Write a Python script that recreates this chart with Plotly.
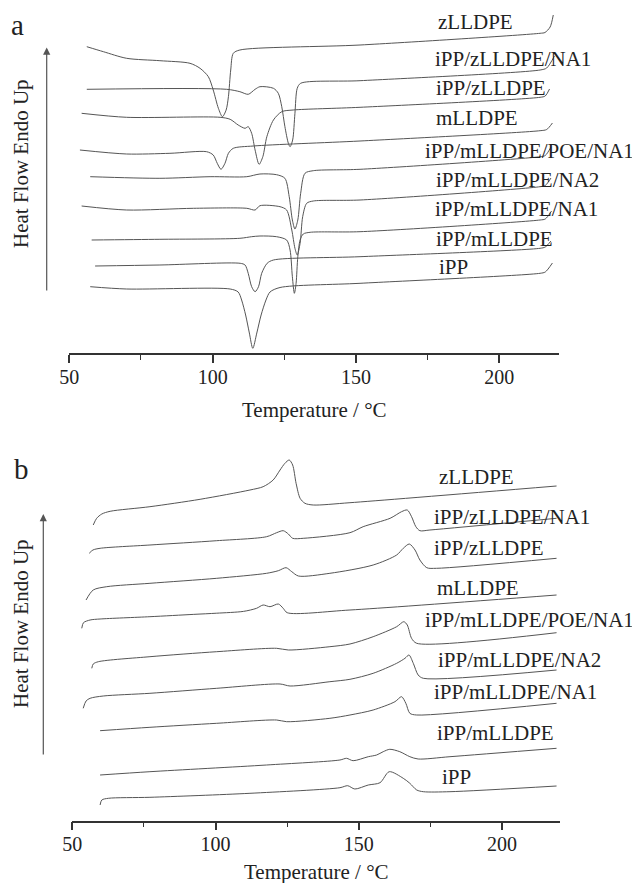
import plotly.graph_objects as go

# ---------------- Panel a : cooling scans (Heat flow, a.u., curves stacked) ----------------
a_names = ["zLLDPE", "iPP/zLLDPE/NA1", "iPP/zLLDPE", "mLLDPE", "iPP/mLLDPE/POE/NA1",
           "iPP/mLLDPE/NA2", "iPP/mLLDPE/NA1", "iPP/mLLDPE", "iPP"]

a_T_zLLDPE = [56.1, 61.9, 70.0, 81.6, 92.1, 95.6, 98.5, 100.2, 102.0, 103.4, 104.7, 105.5, 106.3, 107.2, 109.5, 151.4, 214.2, 215.9, 217.7, 218.8]
a_H_zLLDPE = [306.3, 301.3, 294.7, 292.3, 289.7, 284.7, 276.3, 263.0, 244.7, 236.3, 243.0, 256.3, 283.0, 299.7, 303.0, 308.0, 319.7, 320.5, 326.0, 338.0]

a_T_iPP_zLLDPE_NA1 = [56.1, 104.9, 109.5, 112.4, 114.8, 116.5, 121.2, 122.9, 124.1, 125.2, 126.4, 127.0, 127.9, 128.7, 129.5, 130.7, 151.4, 214.2, 216.5, 219.2]
a_H_iPP_zLLDPE_NA1 = [263.7, 263.7, 261.3, 258.7, 263.7, 266.3, 264.7, 259.7, 246.3, 226.3, 209.7, 206.3, 213.0, 239.7, 264.7, 269.7, 272.3, 283.0, 285.0, 297.0]

a_T_iPP_zLLDPE = [54.3, 70.0, 102.6, 106.1, 108.9, 111.3, 112.4, 113.6, 114.8, 116.2, 117.5, 118.9, 121.2, 124.1, 128.1, 151.4, 214.2, 216.0, 217.5]
a_H_iPP_zLLDPE = [239.7, 235.7, 235.7, 233.7, 228.0, 224.7, 226.3, 219.7, 203.0, 188.7, 196.3, 216.3, 233.0, 241.3, 243.0, 245.7, 255.7, 257.0, 264.0]

a_T_mLLDPE = [53.7, 70.0, 85.1, 97.9, 100.2, 101.6, 102.9, 104.3, 105.5, 107.2, 114.2, 151.4, 214.2, 216.5, 218.5]
a_H_mLLDPE = [203.0, 199.0, 199.7, 201.3, 198.0, 189.7, 183.7, 189.7, 199.7, 204.7, 207.0, 212.0, 222.3, 223.5, 230.0]

a_T_POE_NA1 = [57.3, 81.6, 99.1, 111.9, 116.5, 122.3, 125.2, 126.7, 127.8, 128.7, 129.7, 130.7, 132.2, 135.1, 151.4, 214.2, 216.0, 218.0]
a_H_POE_NA1 = [176.3, 174.7, 176.3, 176.3, 179.0, 178.3, 174.7, 156.3, 133.0, 124.0, 133.0, 159.7, 179.7, 182.3, 183.7, 196.3, 197.5, 206.0]

a_T_NA2 = [54.3, 70.0, 93.3, 111.9, 114.8, 116.5, 123.5, 125.8, 127.6, 128.7, 129.5, 130.5, 131.4, 132.8, 135.1, 151.4, 214.2, 216.0, 218.0]
a_H_NA2 = [147.0, 143.0, 144.7, 144.7, 143.0, 147.3, 146.3, 143.0, 123.0, 104.7, 98.0, 109.7, 136.3, 149.7, 152.0, 153.0, 166.3, 167.5, 175.0]

a_T_NA1 = [57.8, 81.6, 109.5, 113.6, 116.5, 122.3, 125.8, 127.0, 127.8, 128.5, 129.1, 129.7, 130.5, 131.6, 134.0, 151.4, 214.2, 216.0, 218.2]
a_H_NA1 = [113.0, 113.7, 114.7, 116.3, 117.0, 116.3, 113.0, 103.0, 76.3, 59.7, 69.7, 96.3, 113.0, 119.0, 120.7, 121.3, 133.0, 134.0, 142.0]

a_T_iPP_mLLDPE = [59.0, 81.6, 109.6, 111.3, 112.4, 113.6, 114.8, 116.0, 117.1, 119.0, 121.2, 151.4, 214.2, 216.0, 218.0]
a_H_iPP_mLLDPE = [87.0, 88.0, 89.7, 88.0, 79.7, 66.3, 61.3, 66.3, 79.7, 89.7, 93.0, 96.3, 104.7, 106.0, 112.0]

a_T_iPP = [57.3, 70.0, 106.1, 108.9, 110.1, 111.5, 112.8, 114.0, 115.4, 116.9, 118.6, 120.0, 123.5, 151.4, 214.2, 216.0, 218.5]
a_H_iPP = [66.3, 64.0, 64.0, 61.0, 53.0, 38.0, 20.0, 4.7, 20.0, 38.0, 53.0, 61.0, 65.5, 69.7, 79.7, 81.0, 90.0]

a_T = [a_T_zLLDPE, a_T_iPP_zLLDPE_NA1, a_T_iPP_zLLDPE, a_T_mLLDPE, a_T_POE_NA1, a_T_NA2, a_T_NA1, a_T_iPP_mLLDPE, a_T_iPP]
a_H = [a_H_zLLDPE, a_H_iPP_zLLDPE_NA1, a_H_iPP_zLLDPE, a_H_mLLDPE, a_H_POE_NA1, a_H_NA2, a_H_NA1, a_H_iPP_mLLDPE, a_H_iPP]
a_label_T = [178.1, 177.2, 177.6, 177.6, 173.7, 177.6, 177.2, 177.6, 178.7]
a_label_H = [331.0, 294.5, 265.0, 235.0, 202.5, 173.0, 144.0, 114.0, 86.5]

# ---------------- Panel b : heating scans ----------------
b_names = a_names

b_T_zLLDPE = [57.3, 58.5, 60.3, 63.2, 77.1, 94.6, 112.0, 116.6, 120.1, 122.5, 124.2, 125.7, 126.9, 128.1, 129.5, 131.2, 134.1, 146.9, 219.0]
b_H_zLLDPE = [295.7, 302.4, 306.7, 309.4, 314.0, 321.4, 330.7, 334.0, 340.7, 350.7, 357.4, 360.7, 355.7, 337.4, 322.4, 317.4, 315.7, 318.0, 334.7]

b_T_iPP_zLLDPE_NA1 = [55.9, 57.2, 59.7, 77.1, 100.4, 117.8, 121.3, 123.6, 125.4, 126.9, 130.6, 146.9, 151.5, 160.9, 164.9, 166.9, 168.4, 169.9, 171.3, 174.8, 219.0]
b_H_iPP_zLLDPE_NA1 = [267.4, 270.7, 272.4, 275.7, 280.0, 284.0, 288.0, 290.0, 286.7, 282.4, 282.4, 288.0, 294.0, 302.4, 309.0, 310.7, 304.0, 294.0, 290.0, 290.7, 302.4]

b_T_iPP_zLLDPE = [54.8, 57.3, 62.0, 77.1, 100.4, 117.8, 121.9, 124.6, 126.6, 128.9, 139.9, 155.0, 163.2, 165.5, 167.6, 169.6, 171.3, 173.7, 177.1, 219.0]
b_H_iPP_zLLDPE = [220.7, 230.7, 234.0, 237.4, 242.4, 247.4, 250.0, 253.0, 249.0, 244.7, 247.4, 255.7, 265.7, 272.4, 276.7, 270.7, 260.7, 253.0, 252.4, 262.4]

b_T_mLLDPE = [53.3, 53.9, 56.2, 59.7, 77.1, 92.2, 100.4, 109.7, 114.3, 116.6, 119.0, 121.9, 123.6, 125.0, 146.9, 219.0]
b_H_mLLDPE = [192.4, 198.0, 200.7, 201.7, 204.0, 206.3, 207.5, 209.3, 212.4, 215.7, 214.0, 216.7, 212.4, 208.0, 210.7, 225.7]

b_T_POE_NA1 = [56.8, 57.3, 59.1, 77.1, 100.4, 121.3, 125.4, 139.9, 146.9, 155.0, 163.2, 165.7, 166.9, 168.4, 170.2, 219.0]
b_H_POE_NA1 = [152.4, 156.7, 159.0, 164.0, 169.0, 172.4, 170.7, 174.0, 176.7, 184.0, 194.0, 199.0, 195.7, 182.4, 177.4, 188.0]

b_T_NA2 = [53.8, 54.8, 56.2, 60.8, 77.1, 100.4, 122.5, 126.0, 139.9, 146.9, 155.0, 163.2, 166.1, 167.5, 169.0, 170.7, 172.5, 219.0]
b_H_NA2 = [112.4, 119.7, 122.4, 124.7, 127.4, 132.4, 136.7, 134.7, 139.0, 141.4, 147.4, 157.4, 162.4, 165.7, 157.4, 145.7, 142.4, 150.7]

b_T_NA1 = [59.7, 77.1, 100.4, 121.3, 124.8, 139.9, 146.9, 155.0, 162.6, 164.9, 166.4, 167.8, 170.2, 219.0]
b_H_NA1 = [90.0, 93.4, 97.4, 100.7, 99.0, 102.4, 105.7, 110.7, 119.0, 124.0, 117.4, 107.4, 105.7, 117.4]

b_T_iPP_mLLDPE = [59.7, 77.1, 117.8, 143.4, 145.7, 148.0, 153.3, 156.2, 158.5, 160.8, 164.3, 167.8, 170.7, 181.8, 219.0]
b_H_iPP_mLLDPE = [45.7, 49.0, 55.7, 60.7, 62.4, 60.0, 64.0, 65.7, 69.0, 71.4, 69.0, 64.0, 61.7, 64.0, 72.4]

b_T_iPP = [59.7, 60.3, 62.6, 77.1, 112.0, 143.4, 146.1, 148.6, 153.3, 157.4, 160.6, 165.5, 167.8, 170.2, 172.5, 181.8, 219.0]
b_H_iPP = [15.7, 20.7, 22.4, 23.4, 27.4, 33.0, 35.0, 31.7, 35.7, 38.0, 49.0, 42.4, 37.4, 30.7, 29.0, 29.0, 34.7]

b_T = [b_T_zLLDPE, b_T_iPP_zLLDPE_NA1, b_T_iPP_zLLDPE, b_T_mLLDPE, b_T_POE_NA1, b_T_NA2, b_T_NA1, b_T_iPP_mLLDPE, b_T_iPP]
b_H = [b_H_zLLDPE, b_H_iPP_zLLDPE_NA1, b_H_iPP_zLLDPE, b_H_mLLDPE, b_H_POE_NA1, b_H_NA2, b_H_NA1, b_H_iPP_mLLDPE, b_H_iPP]
b_label_T = [177.6, 176.0, 176.0, 176.9, 172.7, 177.4, 176.0, 176.9, 178.5]
b_label_H = [343.7, 304.2, 273.2, 232.7, 200.7, 161.2, 128.7, 87.4, 43.7]

x_ticks = [50, 100, 150, 200]
x_minor_ticks = [75, 125, 175]

# ---------------- figure ----------------
# The page body has an 8 px default margin, so the figure is 8 px smaller than the window
# and every layout position below (given in window pixels) is shifted by that margin.
PAGE_W, PAGE_H, BODY = 640, 883, 8
W, H = PAGE_W - BODY, PAGE_H - BODY

def fx(px):
    return (px - BODY) / W

def fy(py):
    return 1 - (py - BODY) / H

SERIF = "Liberation Serif, Times New Roman, serif"
LINE = "#555555"
INK = "#222222"

fig = go.Figure()
for T, Hf, nm in zip(a_T, a_H, a_names):
    fig.add_trace(go.Scatter(x=T, y=Hf, mode="lines", name=nm, xaxis="x", yaxis="y",
                             line=dict(color=LINE, width=1.0, shape="spline", smoothing=0.8),
                             showlegend=False, hoverinfo="skip"))
for T, Hf, nm in zip(b_T, b_H, b_names):
    fig.add_trace(go.Scatter(x=T, y=Hf, mode="lines", name=nm, xaxis="x2", yaxis="y2",
                             line=dict(color=LINE, width=1.0, shape="spline", smoothing=0.8),
                             showlegend=False, hoverinfo="skip"))

def xaxis_style(rng, dom, anchor):
    return dict(range=rng, domain=dom, anchor=anchor, automargin=False, showline=True, linecolor="#333",
                linewidth=1.5, ticks="outside", ticklen=8, tickwidth=1.5, tickcolor="#333",
                tickmode="array", tickvals=x_ticks, ticktext=[str(v) for v in x_ticks],
                ticklabelstandoff=-3,
                tickfont=dict(family=SERIF, size=20, color=INK),
                minor=dict(tickvals=x_minor_ticks, ticks="outside", ticklen=5, tickwidth=1.2, tickcolor="#333"),
                showgrid=False, zeroline=False)

def yaxis_style(rng, dom, anchor):
    return dict(range=rng, domain=dom, anchor=anchor, visible=False, fixedrange=True, automargin=False)

fig.update_layout(
    width=W, height=H, margin=dict(l=0, r=0, t=0, b=0, autoexpand=False),
    paper_bgcolor="white", plot_bgcolor="white",
    xaxis=xaxis_style([50, 220.8], [fx(69.3), fx(559)], "y"),
    yaxis=yaxis_style([0, 343], [fy(353), fy(10)], "x"),
    xaxis2=xaxis_style([50, 220.2], [fx(72.3), fx(560)], "y2"),
    yaxis2=yaxis_style([0, 380.7], [fy(820.7), fy(440)], "x2"),
)

LABEL_FONT = dict(family=SERIF, size=21, color=INK)
ann = []
for nm, tx, hy in zip(a_names, a_label_T, a_label_H):
    ann.append(dict(x=tx, y=hy, xref="x", yref="y", text=nm, showarrow=False, xanchor="left",
                    yanchor="middle", borderpad=0, font=LABEL_FONT))
for nm, tx, hy in zip(b_names, b_label_T, b_label_H):
    ann.append(dict(x=tx, y=hy, xref="x2", yref="y2", text=nm, showarrow=False, xanchor="left",
                    yanchor="middle", borderpad=0, font=LABEL_FONT))

# panel letters, axis titles, y-axis descriptions and arrows
for letter, lx, ly, title_x, title_y, tx_y, arr_x, tip_y, tail_y in [
        ("a", 17, 25, 314, 410, 164, 46.7, 47.5, 292),
        ("b", 21, 469, 316, 871.5, 624, 43.3, 514, 756)]:
    ann.append(dict(x=fx(lx), y=fy(ly), xref="paper", yref="paper", text=letter, showarrow=False,
                    xanchor="center", yanchor="middle", font=dict(family=SERIF, size=29, color=INK)))
    ann.append(dict(x=fx(title_x), y=fy(title_y), xref="paper", yref="paper", text="Temperature / °C",
                    showarrow=False, xanchor="center", yanchor="middle",
                    font=dict(family=SERIF, size=21, color=INK)))
    ann.append(dict(x=fx(21), y=fy(tx_y), xref="paper", yref="paper", text="Heat Flow Endo Up",
                    textangle=-90, showarrow=False, xanchor="center", yanchor="middle",
                    font=dict(family=SERIF, size=21, color=INK)))
    ann.append(dict(x=fx(arr_x), y=fy(tip_y), xref="paper", yref="paper", text="",
                    showarrow=True, ax=0, ay=tail_y - tip_y, arrowhead=2, arrowsize=1.2,
                    arrowwidth=1.2, arrowcolor="#555", standoff=0, startstandoff=0))

fig.update_layout(annotations=ann)
fig.write_html("out.html")
